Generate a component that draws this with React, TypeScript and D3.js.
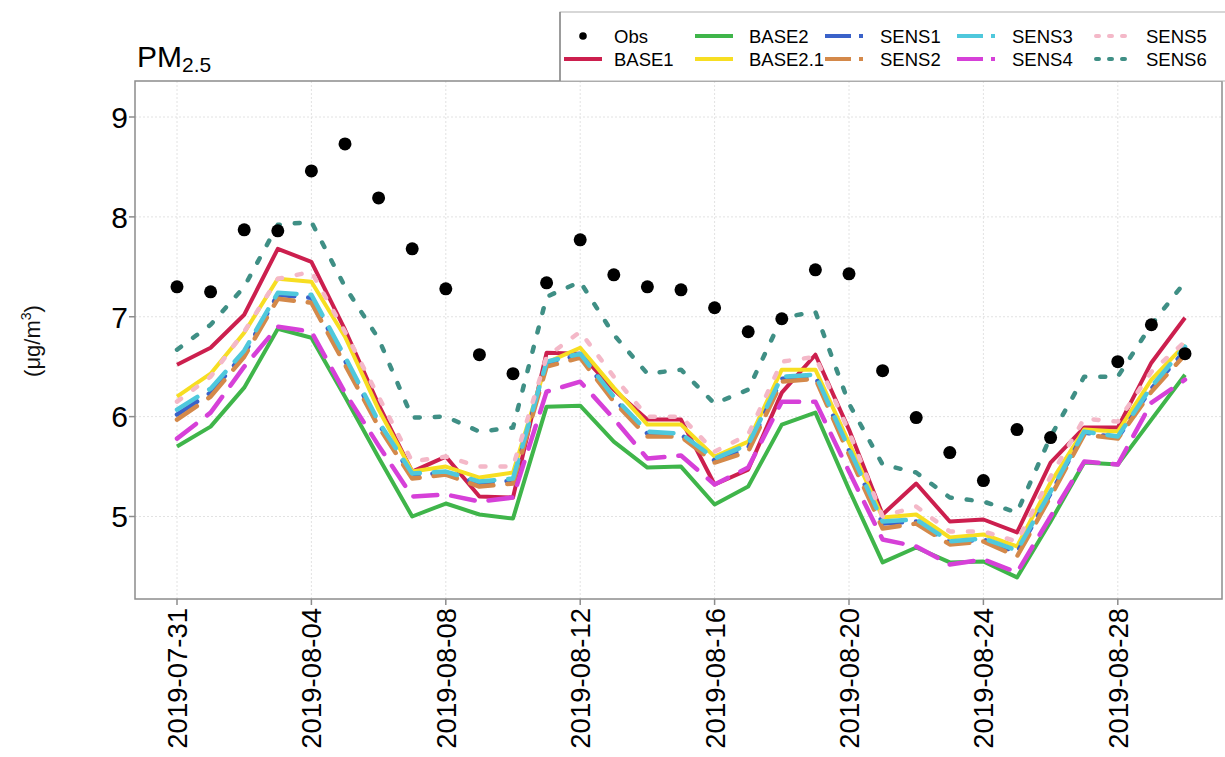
import React from "react";
import * as d3 from "d3";

// ---- data ----
const startDate = "2019-07-31";
const tickLabels = ["2019-07-31", "2019-08-04", "2019-08-08", "2019-08-12", "2019-08-16", "2019-08-20", "2019-08-24", "2019-08-28"];
const yTicks = [5, 6, 7, 8, 9];

const obs: (number | null)[] = [7.30, 7.25, 7.87, 7.86, 8.46, 8.73, 8.19, 7.68, 7.28, 6.62, 6.43, 7.34, 7.77, 7.42, 7.30, 7.27, 7.09, 6.85, 6.98, 7.47, 7.43, 6.46, 5.99, 5.64, 5.36, 5.87, 5.79, null, 6.55, 6.92, 6.63];
const base1 = [6.52, 6.69, 7.02, 7.68, 7.55, 6.87, 6.12, 5.45, 5.60, 5.20, 5.19, 6.64, 6.63, 6.27, 5.97, 5.97, 5.32, 5.47, 6.24, 6.62, 5.87, 5.02, 5.33, 4.95, 4.97, 4.84, 5.54, 5.89, 5.89, 6.54, 6.99];
const base2 = [5.70, 5.90, 6.29, 6.88, 6.79, 6.20, 5.59, 5.00, 5.13, 5.02, 4.98, 6.10, 6.11, 5.75, 5.49, 5.50, 5.12, 5.30, 5.92, 6.04, 5.27, 4.54, 4.69, 4.54, 4.55, 4.39, 4.95, 5.54, 5.52, 5.97, 6.42];
const base21 = [6.20, 6.43, 6.84, 7.38, 7.35, 6.80, 6.07, 5.45, 5.50, 5.39, 5.44, 6.54, 6.69, 6.29, 5.92, 5.92, 5.60, 5.75, 6.47, 6.47, 5.74, 4.99, 5.02, 4.79, 4.82, 4.70, 5.34, 5.87, 5.85, 6.37, 6.72];
const sens1 = [6.02, 6.24, 6.63, 7.22, 7.19, 6.56, 5.93, 5.41, 5.44, 5.33, 5.36, 6.53, 6.62, 6.18, 5.83, 5.82, 5.56, 5.69, 6.38, 6.40, 5.66, 4.93, 4.95, 4.74, 4.77, 4.64, 5.23, 5.84, 5.79, 6.28, 6.66];
const sens2 = [5.97, 6.20, 6.60, 7.18, 7.14, 6.52, 5.90, 5.38, 5.42, 5.30, 5.33, 6.50, 6.59, 6.15, 5.80, 5.80, 5.54, 5.65, 6.35, 6.38, 5.62, 4.88, 4.93, 4.72, 4.75, 4.60, 5.20, 5.82, 5.78, 6.25, 6.62];
const sens3 = [6.07, 6.28, 6.66, 7.24, 7.22, 6.60, 5.95, 5.43, 5.45, 5.35, 5.38, 6.55, 6.63, 6.20, 5.85, 5.83, 5.58, 5.72, 6.40, 6.42, 5.68, 4.95, 4.97, 4.75, 4.78, 4.66, 5.25, 5.85, 5.80, 6.30, 6.70];
const sens4 = [5.78, 6.04, 6.50, 6.90, 6.85, 6.24, 5.71, 5.20, 5.22, 5.15, 5.19, 6.25, 6.35, 5.98, 5.58, 5.61, 5.32, 5.49, 6.15, 6.15, 5.45, 4.77, 4.70, 4.52, 4.57, 4.44, 5.00, 5.55, 5.52, 6.14, 6.37];
const sens5 = [6.15, 6.40, 6.85, 7.38, 7.45, 6.85, 6.20, 5.55, 5.60, 5.50, 5.50, 6.60, 6.85, 6.40, 6.00, 6.00, 5.65, 5.82, 6.55, 6.60, 5.85, 5.00, 5.10, 4.85, 4.85, 4.75, 5.40, 5.98, 5.95, 6.45, 6.75];
const sens6 = [6.67, 6.92, 7.30, 7.92, 7.95, 7.30, 6.78, 5.99, 6.00, 5.85, 5.89, 7.20, 7.35, 6.82, 6.43, 6.47, 6.13, 6.27, 6.99, 7.05, 6.13, 5.52, 5.44, 5.19, 5.15, 5.04, 5.80, 6.40, 6.40, 6.92, 7.35];

const seriesNames = ["BASE1", "BASE2", "BASE2.1", "SENS1", "SENS2", "SENS3", "SENS4", "SENS5", "SENS6"];
const seriesValues = [base1, base2, base21, sens1, sens2, sens3, sens4, sens5, sens6];
const seriesColors = ["#cc1f4e", "#3fb54a", "#f7de22", "#3a62c9", "#d4894a", "#4fc8dc", "#d640d8", "#f4b8c8", "#3f8f85"];
const seriesType = ["solid", "solid", "solid", "longdash", "longdash", "longdash", "longdash", "dotted", "dotted"];

const legendColumns = [["Obs", "BASE1"], ["BASE2", "BASE2.1"], ["SENS1", "SENS2"], ["SENS3", "SENS4"], ["SENS5", "SENS6"]];

// ---- layout ----
const W = 1225, H = 757;
const plot = { left: 135, right: 1222, top: 81, bottom: 599 };
const FONT = "Liberation Sans, Arial, Helvetica, sans-serif";
const plotDash: Record<string, string | undefined> = { solid: undefined, longdash: "24,14", dotted: "5,15" };
const keyDash: Record<string, string | undefined> = { solid: undefined, longdash: "26,8", dotted: "3,10" };
const keyCap: Record<string, "butt" | "round"> = { solid: "butt", longdash: "butt", dotted: "round" };

export default function App() {
  const parse = d3.utcParse("%Y-%m-%d");
  const d0 = parse(startDate)!;
  const dates = obs.map((_, i) => d3.utcDay.offset(d0, i));
  const x = d3.scaleUtc().domain([d0, dates[dates.length - 1]]).range([177, 1185]);
  const y = d3.scaleLinear().domain([5, 9]).range([516.5, 117]);
  const tickDates = tickLabels.map((t) => parse(t)!);

  const line = d3
    .line<number | null>()
    .defined((v) => v != null)
    .x((_, i) => x(dates[i]))
    .y((v) => y(v as number));

  const legendKeyX = [564, 695, 825, 957, 1094];
  const legendTextX = [614, 749, 880, 1012, 1146];
  const legendRowY = [36, 59];

  return (
    <div style={{ position: "absolute", left: 0, top: 0, width: W, height: H, background: "#fff" }}>
      <svg width={W} height={H} style={{ display: "block", fontFamily: FONT }}>
        <rect x={0} y={0} width={W} height={H} fill="#fff" />
        {/* grid */}
        {yTicks.map((t) => (
          <line key={"gy" + t} x1={plot.left} x2={plot.right} y1={y(t)} y2={y(t)} stroke="#e2e2e2" strokeWidth={1} strokeDasharray="2,2" />
        ))}
        {tickDates.map((d, i) => (
          <line key={"gx" + i} x1={x(d)} x2={x(d)} y1={plot.top} y2={plot.bottom} stroke="#e2e2e2" strokeWidth={1} strokeDasharray="2,2" />
        ))}
        {/* series */}
        {seriesValues.map((vals, k) => (
          <path
            key={seriesNames[k]}
            d={line(vals) || ""}
            fill="none"
            stroke={seriesColors[k]}
            strokeWidth={seriesType[k] === "solid" ? 4 : 4.5}
            strokeDasharray={plotDash[seriesType[k]]}
            strokeLinecap={seriesType[k] === "solid" ? "butt" : "round"}
            strokeLinejoin="round"
          />
        ))}
        {/* obs */}
        {obs.map((v, i) =>
          v == null ? null : <circle key={"o" + i} cx={x(dates[i])} cy={y(v)} r={6.5} fill="#000" />
        )}
        {/* panel border */}
        <rect x={plot.left} y={plot.top} width={plot.right - plot.left} height={plot.bottom - plot.top} fill="none" stroke="#8c8c8c" strokeWidth={1.5} />
        {/* y axis */}
        {yTicks.map((t) => (
          <g key={"yt" + t}>
            <line x1={plot.left - 6} x2={plot.left} y1={y(t)} y2={y(t)} stroke="#8c8c8c" strokeWidth={1.5} />
            <text x={plot.left - 7} y={y(t)} dy="0.36em" textAnchor="end" fontSize={30} fill="#000">
              {t}
            </text>
          </g>
        ))}
        {/* x axis */}
        {tickDates.map((d, i) => (
          <g key={"xt" + i}>
            <line x1={x(d)} x2={x(d)} y1={plot.bottom} y2={plot.bottom + 6} stroke="#8c8c8c" strokeWidth={1.5} />
            <text
              transform={`translate(${x(d)},${plot.bottom + 9}) rotate(-90)`}
              dy="0.36em"
              textAnchor="end"
              fontSize={27.5}
              fill="#000"
            >
              {tickLabels[i]}
            </text>
          </g>
        ))}
        {/* title */}
        <text x={137} y={67} fontSize={30} fill="#000">
          PM<tspan fontSize={21} dy={5}>2.5</tspan>
        </text>
        {/* y label */}
        <text transform="translate(40,341) rotate(-90)" textAnchor="middle" fontSize={22} fill="#111">
          (μg/m<tspan fontSize={14} dy={-9}>3</tspan><tspan dy={9}>)</tspan>
        </text>
        {/* legend */}
        <g>
          <rect x={560} y={12} width={W - 560 + 5} height={plot.top - 12} fill="#fff" stroke="#b0b0b0" strokeWidth={1} />
          <line x1={560} x2={560} y1={12} y2={plot.top} stroke="#888" strokeWidth={1.5} />
          {legendColumns.map((col, c) =>
            col.map((name, r) => {
              const yy = legendRowY[r];
              const k = seriesNames.indexOf(name);
              const t = seriesType[k];
              return (
                <g key={name}>
                  {name === "Obs" ? (
                    <circle cx={legendKeyX[c] + 19} cy={yy} r={3.8} fill="#000" />
                  ) : (
                    <line
                      x1={legendKeyX[c] + (t === "dotted" ? 2 : 0)}
                      x2={legendKeyX[c] + 38}
                      y1={yy}
                      y2={yy}
                      stroke={seriesColors[k]}
                      strokeWidth={4}
                      strokeDasharray={keyDash[t]}
                      strokeLinecap={keyCap[t]}
                    />
                  )}
                  <text x={legendTextX[c]} y={yy} dy="0.36em" fontSize={18.5} fill="#000">
                    {name}
                  </text>
                </g>
              );
            })
          )}
        </g>
      </svg>
    </div>
  );
}
